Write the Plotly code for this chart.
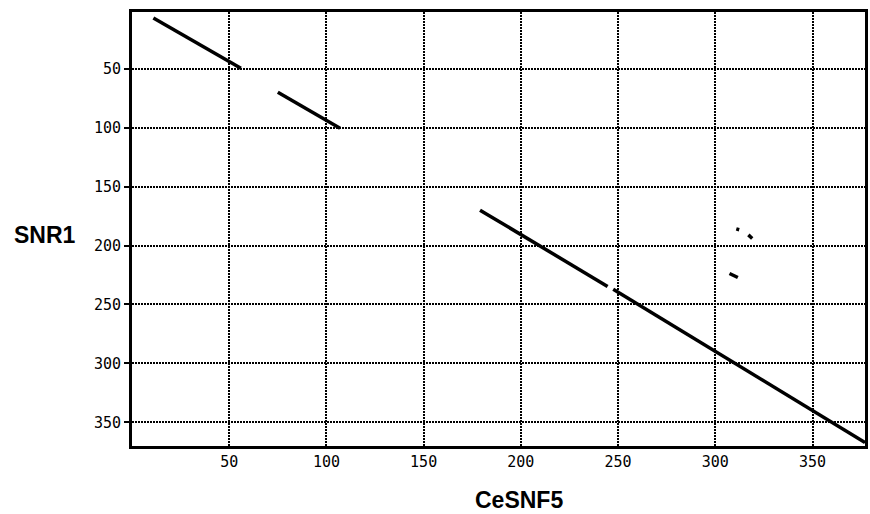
import plotly.graph_objects as go

# Alignment segments (CeSNF5 position, SNR1 position); None separates segments
seg_x = [11, 56, None, 75, 107, None, 179, 244.6, None, 247.5, 377, None,
         310.8, 312.3, None, 317, 319, None, 307.3, 311.6]
seg_y = [7, 49.7, None, 70, 100.6, None, 170, 234.7, None, 237, 367, None,
         185.9, 186.6, None, 191, 194, None, 223.7, 227.1]

tick_vals = [50, 100, 150, 200, 250, 300, 350]
tick_text = ["50", "100", "150", "200", "250", "300", "350"]

x_title = "CeSNF5"
y_title = "SNR1"

fig = go.Figure()
fig.add_trace(go.Scatter(x=seg_x, y=seg_y, mode="lines",
                         line=dict(color="black", width=3.5),
                         connectgaps=False, hoverinfo="skip"))

tickfont = dict(family="DejaVu Sans Mono", size=15, color="black")
grid_dash = "2px,1px"

fig.update_xaxes(range=[0, 377], tickvals=tick_vals, ticktext=tick_text,
                 showgrid=True, gridcolor="black", gridwidth=2, griddash=grid_dash,
                 showline=True, linecolor="black", linewidth=3, mirror=True,
                 ticks="", zeroline=False, tickfont=tickfont)
fig.update_yaxes(range=[370, 2], tickvals=tick_vals, ticktext=tick_text,
                 showgrid=True, gridcolor="black", gridwidth=2, griddash=grid_dash,
                 showline=True, linecolor="black", linewidth=3, mirror=True,
                 ticks="outside", ticklen=5, tickwidth=2, tickcolor="black",
                 zeroline=False, tickfont=tickfont)

titlefont = dict(family="Liberation Sans", size=23, color="black")
fig.add_annotation(text="<b>" + y_title + "</b>", xref="paper", yref="paper",
                   x=-0.119, y=0.486, showarrow=False, font=titlefont,
                   xanchor="center", yanchor="middle")
fig.add_annotation(text="<b>" + x_title + "</b>", xref="paper", yref="paper",
                   x=0.5285, y=-0.125, showarrow=False, font=titlefont,
                   xanchor="center", yanchor="middle")

fig.update_layout(width=870, height=514,
                  margin=dict(l=132, r=2, t=12, b=68),
                  paper_bgcolor="white", plot_bgcolor="white",
                  showlegend=False)

fig.write_html(
    "out.html",
    config={"displayModeBar": False},
    post_script="document.body.style.margin='0';document.body.style.overflow='hidden';",
)
